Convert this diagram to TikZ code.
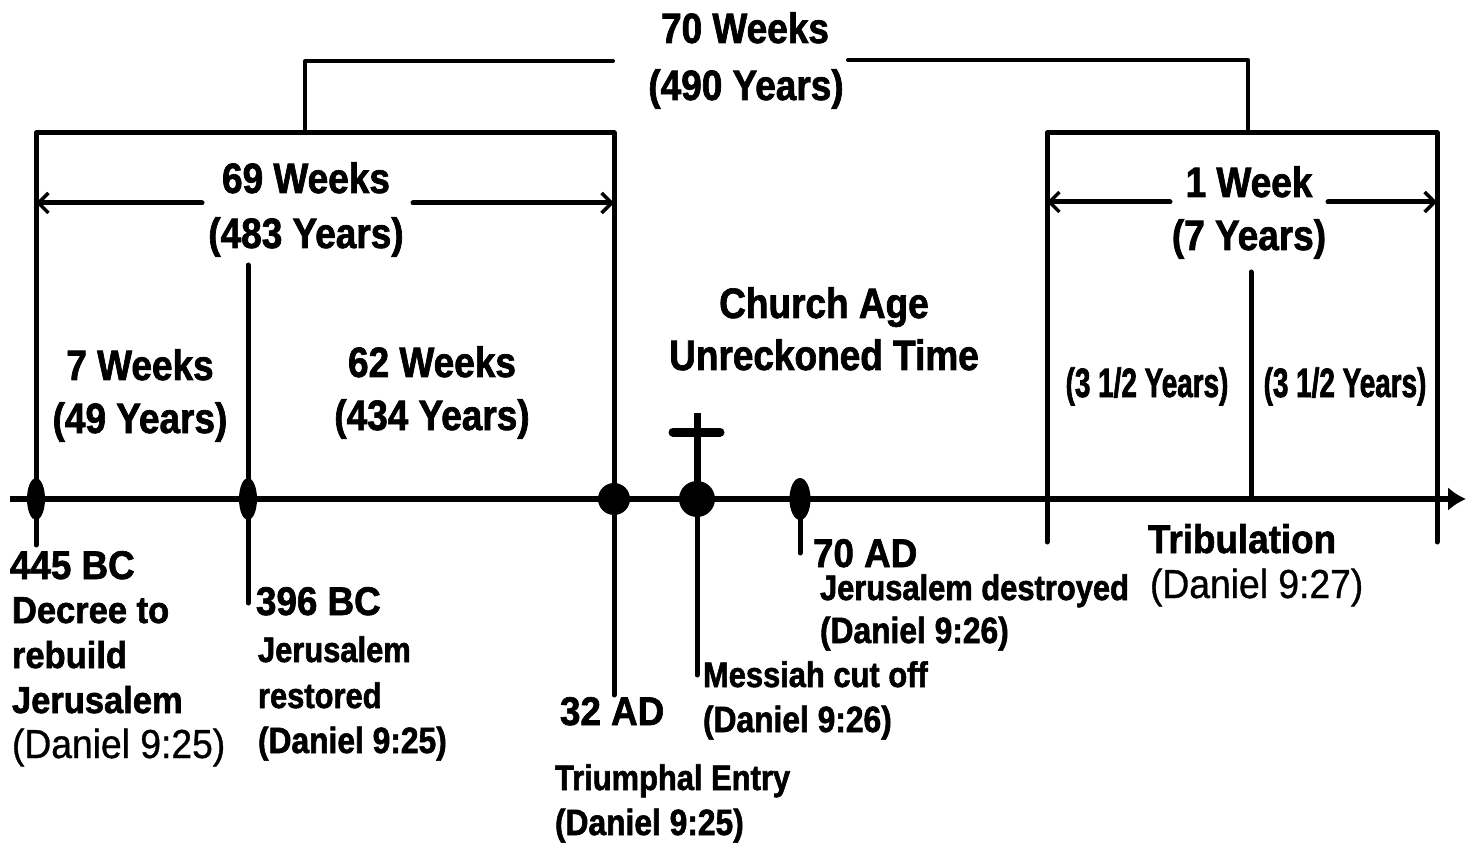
\documentclass[tikz,border=0pt]{standalone}
\usepackage{fontspec}
\setmainfont{Liberation Sans}
\newfontfamily\fA{Liberation Sans}[FakeStretch=0.87,BoldFeatures={FakeBold=1.6}]
\newfontfamily\fB{Liberation Sans}[FakeStretch=0.92,BoldFeatures={FakeBold=1.6},UprightFeatures={FakeBold=0.8}]
\newfontfamily\fC{Liberation Sans}[FakeStretch=0.68,BoldFeatures={FakeBold=1.6}]
\usetikzlibrary{arrows.meta}
\tikzset{
  lbl/.style={inner sep=0pt, outer sep=0pt},
  hd/.style={lbl, anchor=base, font=\fA\bfseries\fontsize{42.5}{48}\selectfont},
  half/.style={lbl, anchor=base, font=\fC\bfseries\fontsize{41}{48}\selectfont},
  datelbl/.style={lbl, anchor=base west, font=\fB\bfseries\fontsize{40}{46}\selectfont},
  dsc/.style={lbl, anchor=base west, font=\fB\bfseries\fontsize{37.5}{44}\selectfont},
  mdm/.style={lbl, anchor=base west, font=\fA\bfseries\fontsize{35.5}{42}\selectfont},
  danb/.style={lbl, anchor=base west, font=\fA\bfseries\fontsize{36.5}{42}\selectfont},
  danr/.style={lbl, anchor=base west, font=\fB\fontsize{40.5}{46}\selectfont},
  ln/.style={line width=5pt, line cap=round, line join=round},
  thinln/.style={line width=4pt, line cap=round, line join=round},
  barb/.style={-{Straight Barb[length=10pt,width=20pt,line width=3.5pt]}},
}
\begin{document}
\begin{tikzpicture}[x=1pt,y=-1pt]
\useasboundingbox[fill=white] (0,0) rectangle (1473,850);

% key coordinates
\coordinate (tl) at (305,61);
\coordinate (tlb) at (305,133);
\coordinate (tle) at (613,61);
\coordinate (trs) at (848,60);
\coordinate (tr) at (1248,60);
\coordinate (trb) at (1248,133);

\coordinate (a0) at (36,545);
\coordinate (a1) at (36,133);
\coordinate (a2) at (614,133);
\coordinate (a3) at (614,695);
\coordinate (aL) at (36,203);
\coordinate (aLe) at (202,203);
\coordinate (aRs) at (413,203);
\coordinate (aR) at (614,203);
\coordinate (d1a) at (248,265);
\coordinate (d1b) at (248,603);

\coordinate (b0) at (1047,542);
\coordinate (b1) at (1047,133);
\coordinate (b2) at (1437,133);
\coordinate (b3) at (1437,542);
\coordinate (bL) at (1047,202);
\coordinate (bLe) at (1170,202);
\coordinate (bRs) at (1328,202);
\coordinate (bR) at (1437,202);
\coordinate (d2a) at (1251,272);
\coordinate (d2b) at (1251,499);

\coordinate (ax0) at (10,499);
\coordinate (ax1) at (1466,499);

\coordinate (p445) at (36,499);
\coordinate (p396) at (248,499);
\coordinate (p32) at (614,499);
\coordinate (pM) at (697,499);
\coordinate (p70) at (800,499);
\coordinate (crossTop) at (697,413);
\coordinate (crossEnd) at (697,675);
\coordinate (barL) at (673,432);
\coordinate (barR) at (720,432);
\coordinate (t70) at (800,553);

% top 70-weeks bracket
\draw[thinln] (tlb) -- (tl) -- (tle);
\draw[thinln] (trs) -- (tr) -- (trb);

% 69 weeks box
\draw[ln] (a0) -- (a1) -- (a2) -- (a3);
\draw[ln, barb] (aLe) -- (aL);
\draw[ln, barb] (aRs) -- (aR);
\draw[ln] (d1a) -- (d1b);

% 1 week box
\draw[ln] (b0) -- (b1) -- (b2) -- (b3);
\draw[ln, barb] (bLe) -- (bL);
\draw[ln, barb] (bRs) -- (bR);
\draw[ln] (d2a) -- (d2b);

% axis
\draw[line width=6pt, -{Latex[length=18pt,width=24pt]}] (ax0) -- (ax1);

% points
\fill (p445) ellipse [x radius=9, y radius=21];
\fill (p396) ellipse [x radius=9, y radius=21];
\fill (p32) circle [radius=16];
\fill (pM) circle [radius=18];
\fill (p70) ellipse [x radius=10.5, y radius=21];

% cross and ticks
\draw[line width=7pt] (crossTop) -- (pM);
\draw[ln] (pM) -- (crossEnd);
\draw[line width=9pt, line cap=round] (barL) -- (barR);
\draw[ln] (p70) -- (t70);

% headings
\node[hd] (w70) at (745,43) {70 Weeks};
\node[hd] (y490) at (746,100) {(490 Years)};
\node[hd] (w69) at (306,193) {69 Weeks};
\node[hd] (y483) at (306,248) {(483 Years)};
\node[hd] (w7) at (140,380) {7 Weeks};
\node[hd] (y49) at (140,433) {(49 Years)};
\node[hd] (w62) at (432,377) {62 Weeks};
\node[hd] (y434) at (432,430) {(434 Years)};
\node[hd] (ca1) at (824,318) {Church Age};
\node[hd] (ca2) at (824,370) {Unreckoned Time};
\node[hd] (w1) at (1249,197) {1 Week};
\node[hd] (y7) at (1249,250) {(7 Years)};
\node[half] (h1) at (1147,397) {(3 1/2 Years)};
\node[half] (h2) at (1345,397) {(3 1/2 Years)};

% tribulation
\node[datelbl] (trib) at (1148,553) {Tribulation};
\node[danr] (trib2) at (1150,598) {(Daniel 9:27)};

% 445 BC
\node[datelbl] (l445) at (10,579) {445 BC};
\node[dsc] (l445a) at (12,623) {Decree to};
\node[dsc] (l445b) at (12,668) {rebuild};
\node[dsc] (l445c) at (12,713) {Jerusalem};
\node[danr] (l445d) at (12,758) {(Daniel 9:25)};

% 396 BC
\node[datelbl] (l396) at (256,615) {396 BC};
\node[mdm] (l396a) at (258,662) {Jerusalem};
\node[mdm] (l396b) at (258,708) {restored};
\node[danb] (l396c) at (258,753) {(Daniel 9:25)};

% 32 AD
\node[datelbl] (l32) at (560,725) {32 AD};
\node[mdm] (l32a) at (555,790) {Triumphal Entry};
\node[danb] (l32b) at (555,835) {(Daniel 9:25)};

% Messiah
\node[mdm] (lm) at (703,687) {Messiah cut off};
\node[danb] (lm2) at (703,732) {(Daniel 9:26)};

% 70 AD
\node[datelbl] (l70) at (813,567) {70 AD};
\node[mdm] (l70a) at (820,600) {Jerusalem destroyed};
\node[danb] (l70b) at (820,643) {(Daniel 9:26)};
\end{tikzpicture}
\end{document}
